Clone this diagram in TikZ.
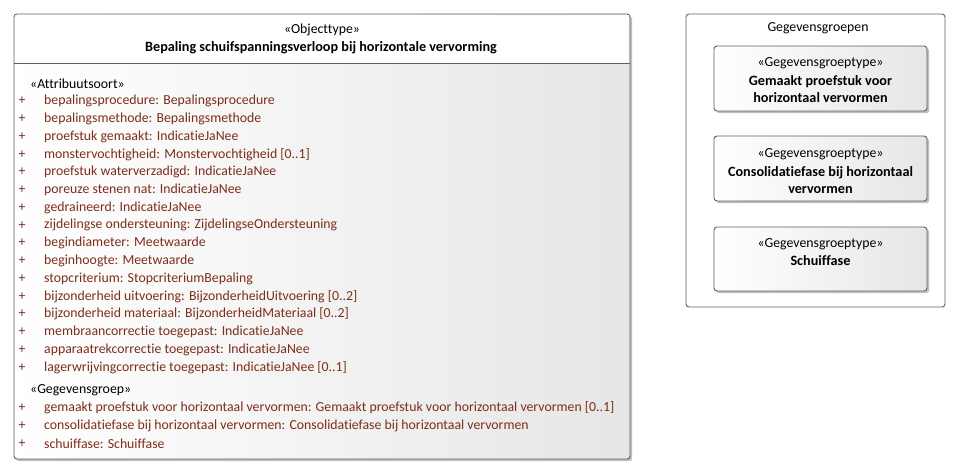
\documentclass[tikz,border=0pt]{standalone}
\usepackage{fontspec}
\setmainfont{Carlito}[Ligatures=NoCommon]
\usetikzlibrary{shadows}
\definecolor{attr}{RGB}{125,45,25}
\definecolor{frame}{RGB}{95,95,95}
\definecolor{shade}{RGB}{230,230,230}
\tikzset{
  box/.style={draw=frame, line width=0.9pt, rounded corners=3pt, left color=white, right color=shade,
    drop shadow={shadow xshift=2.2pt, shadow yshift=-2.2pt, fill=black!45, opacity=0.55}},
  outerbox/.style={draw=frame, line width=0.9pt, rounded corners=3pt, fill=white},
  txt/.style={font=\fontsize{13.8}{16}\selectfont, inner sep=0pt, text=black},
  btxt/.style={txt, font=\fontsize{14.2}{17}\selectfont\bfseries, align=center},
  atxt/.style={txt, anchor=west, text=attr},
  plus/.style={txt, text=attr},
}
\begin{document}
\begin{tikzpicture}[x=1pt,y=-1pt]
\useasboundingbox (0,0) rectangle (964,474);
% main class
\draw[box] (14,14) rectangle (630,459);
\fill[white] (15,15) rectangle (629,63);
\draw[frame, line width=0.9pt] (14,63.5) -- (630,63.5);
\node[txt] (ster) at (322,30) {«Objecttype»};
\node[btxt] (title) at (321,48) {Bepaling schuifspanningsverloop bij horizontale vervorming};
\node[txt, anchor=west] (st1) at (30,84) {«Attribuutsoort»};
\foreach \i/\t in {0/{bepalingsprocedure: Bepalingsprocedure},
  1/{bepalingsmethode: Bepalingsmethode},
  2/{proefstuk gemaakt: IndicatieJaNee},
  3/{monstervochtigheid: Monstervochtigheid [0..1]},
  4/{proefstuk waterverzadigd: IndicatieJaNee},
  5/{poreuze stenen nat: IndicatieJaNee},
  6/{gedraineerd: IndicatieJaNee},
  7/{zijdelingse ondersteuning: ZijdelingseOndersteuning},
  8/{begindiameter: Meetwaarde},
  9/{beginhoogte: Meetwaarde},
  10/{stopcriterium: StopcriteriumBepaling},
  11/{bijzonderheid uitvoering: BijzonderheidUitvoering [0..2]},
  12/{bijzonderheid materiaal: BijzonderheidMateriaal [0..2]},
  13/{membraancorrectie toegepast: IndicatieJaNee},
  14/{apparaatrekcorrectie toegepast: IndicatieJaNee},
  15/{lagerwrijvingcorrectie toegepast: IndicatieJaNee [0..1]}}{
  \node[plus] (p\i) at (22,101+17.75*\i) {+};
  \node[atxt] (a\i) at (44,101+17.75*\i) {\t};
}
\node[txt, anchor=west] (st2) at (30,390) {«Gegevensgroep»};
\foreach \i/\t in {0/{gemaakt proefstuk voor horizontaal vervormen: Gemaakt proefstuk voor horizontaal vervormen [0..1]},
  1/{consolidatiefase bij horizontaal vervormen: Consolidatiefase bij horizontaal vervormen},
  2/{schuiffase: Schuiffase}}{
  \node[plus] (q\i) at (22,408+17.9*\i) {+};
  \node[atxt] (g\i) at (44,408+17.9*\i) {\t};
}
% package
\draw[outerbox] (686,14) rectangle (945,307);
\node[txt] (pkg) at (818,28) {Gegevensgroepen};
\draw[box] (714,46) rectangle (927,111);
\node[txt] (b1s) at (820.5,63) {«Gegevensgroeptype»};
\node[btxt] (b1t) at (820.5,89) {Gemaakt proefstuk voor\\horizontaal vervormen};
\draw[box] (714,136) rectangle (927,201);
\node[txt] (b2s) at (820.5,154) {«Gegevensgroeptype»};
\node[btxt] (b2t) at (820.5,180) {Consolidatiefase bij horizontaal\\vervormen};
\draw[box] (714,227) rectangle (927,291);
\node[txt] (b3s) at (820.5,244) {«Gegevensgroeptype»};
\node[btxt] (b3t) at (820.5,261) {Schuiffase};
\end{tikzpicture}
\end{document}
